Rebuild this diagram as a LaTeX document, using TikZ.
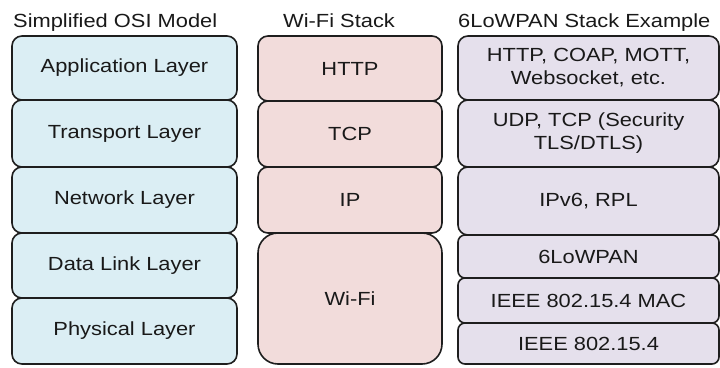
\documentclass[tikz,border=0pt]{standalone}
\usepackage{fontspec}
\setmainfont{Liberation Sans}[FakeStretch=1.15]
\definecolor{OsiBlue}{RGB}{219,238,244}
\definecolor{WifiPink}{RGB}{242,220,219}
\definecolor{LowpanLilac}{RGB}{229,224,236}
\definecolor{EdgeGray}{RGB}{30,30,30}
\definecolor{TextGray}{RGB}{25,25,25}
\usetikzlibrary{positioning}

\begin{document}
\begin{tikzpicture}[x=1pt,y=-1pt,
        blk/.style={draw=EdgeGray,line width=1.6pt,rounded corners=10pt,
                    text=TextGray,align=center,font=\fontsize{19}{23}\selectfont,
                    inner sep=0pt,outer sep=0pt},
        osiblk/.style={blk,fill=OsiBlue,minimum width=225pt},
        wifiblk/.style={blk,fill=WifiPink,minimum width=184pt},
        lowblk/.style={blk,fill=LowpanLilac,minimum width=261pt},
        head/.style={anchor=base west,inner sep=0pt,text=TextGray,
                     font=\fontsize{19}{23}\selectfont}]
        \useasboundingbox (0,0) rectangle (720,367);
        \fill[white] (0,0) rectangle (720,367);
        % column titles
        \node[head] (osihd) at (13,27) {Simplified OSI Model};
        \node[head] (wifihd) at (283,27) {Wi-Fi Stack};
        \node[head] (lowhd) at (458,27) {6LoWPAN Stack Example};
        % simplified OSI model
        \node[osiblk,minimum height=64pt] (app)   at (124.5,68)   {Application Layer};
        \node[osiblk,minimum height=67pt] (trans) at (124.5,133.5) {Transport Layer};
        \node[osiblk,minimum height=66pt] (net)   at (124.5,200)  {Network Layer};
        \node[osiblk,minimum height=65pt] (link)  at (124.5,265.5) {Data Link Layer};
        \node[osiblk,minimum height=66pt] (phys)  at (124.5,331)  {Physical Layer};
        % Wi-Fi stack
        \node[wifiblk,minimum height=65pt] (http) at (350,68.5) {HTTP};
        \node[wifiblk,minimum height=66pt] (tcp)  at (350,134)  {TCP};
        \node[wifiblk,minimum height=66pt] (ip)   at (350,200)  {IP};
        \node[wifiblk,minimum height=131pt,rounded corners=20pt] (wifi) at (350,298.5) {Wi-Fi};
        % 6LoWPAN stack
        \node[lowblk,minimum height=64pt] (apps) at (588.5,68)
          {HTTP, COAP, MOTT,\\Websocket, etc.};
        \node[lowblk,minimum height=67pt] (udp)  at (588.5,133.5)
          {UDP, TCP (Security\\TLS/DTLS)};
        \node[lowblk,minimum height=68pt] (ipv6) at (588.5,201) {IPv6, RPL};
        \node[lowblk,minimum height=43pt,rounded corners=7pt] (adapt) at (588.5,256.5) {6LoWPAN};
        \node[lowblk,minimum height=45pt,rounded corners=7pt] (mac)   at (588.5,300.5) {IEEE 802.15.4 MAC};
        \node[lowblk,minimum height=41pt,rounded corners=7pt] (phy)   at (588.5,343.5) {IEEE 802.15.4};
      \end{tikzpicture}
\end{document}
